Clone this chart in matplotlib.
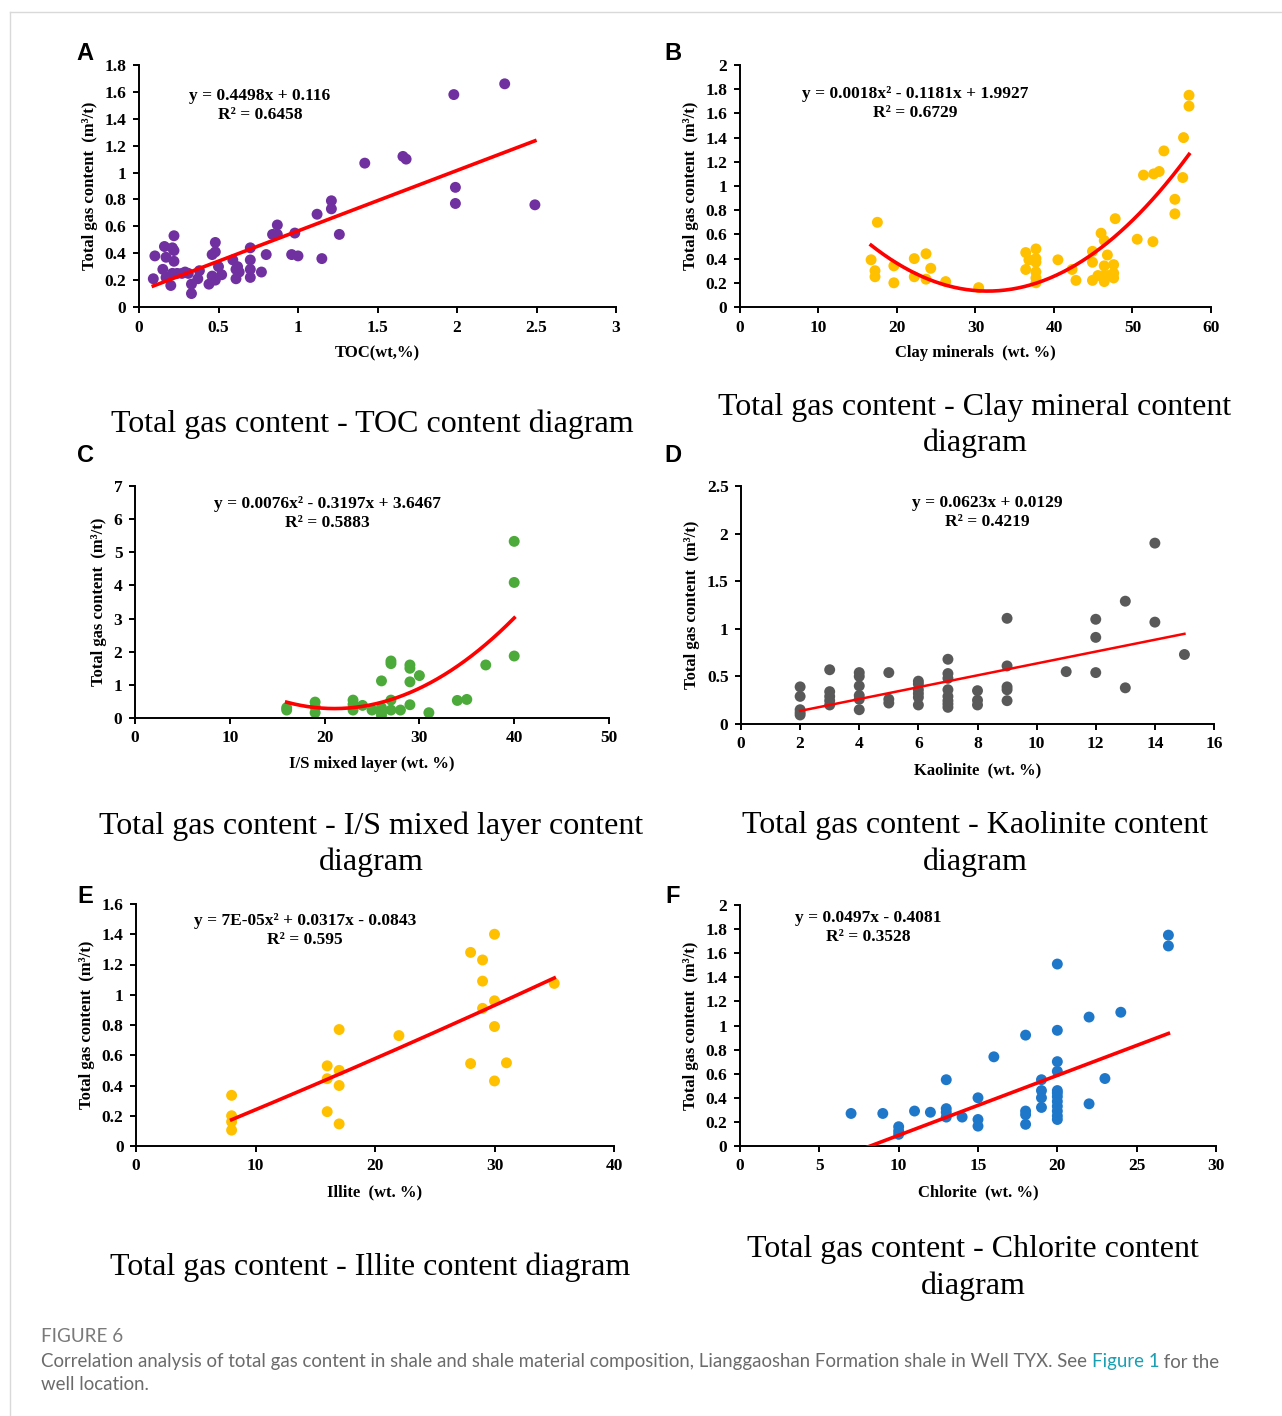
import numpy as np
import matplotlib.pyplot as plt
from matplotlib.lines import Line2D
from matplotlib.ticker import FuncFormatter, MultipleLocator

plt.rcParams['font.family'] = ['Liberation Serif', 'DejaVu Serif']

W, H = 1282, 1416


def fx(x):
    return x / W


def fy(y):
    return 1 - y / H


# ---------------- data ----------------
# A: TOC vs total gas content
toc_x = [0.09, 0.10, 0.15, 0.16, 0.17, 0.17, 0.20, 0.21, 0.22, 0.22, 0.22, 0.21, 0.24, 0.27,
         0.29, 0.31, 0.33, 0.33, 0.37, 0.38, 0.44, 0.46, 0.46, 0.48, 0.48, 0.48, 0.50, 0.52,
         0.59, 0.61, 0.61, 0.62, 0.63, 0.70, 0.70, 0.70, 0.70, 0.77, 0.80, 0.84, 0.87, 0.87,
         0.96, 0.98, 1.00, 1.12, 1.15, 1.21, 1.21, 1.26, 1.42, 1.66, 1.68, 1.98, 1.99, 1.99,
         2.30, 2.49]
toc_y = [0.21, 0.38, 0.28, 0.45, 0.37, 0.22, 0.16, 0.44, 0.53, 0.42, 0.34, 0.25, 0.25, 0.25,
         0.26, 0.25, 0.17, 0.10, 0.21, 0.27, 0.17, 0.23, 0.39, 0.48, 0.41, 0.20, 0.30, 0.24,
         0.35, 0.28, 0.21, 0.30, 0.26, 0.44, 0.35, 0.28, 0.22, 0.26, 0.39, 0.54, 0.61, 0.54,
         0.39, 0.55, 0.38, 0.69, 0.36, 0.79, 0.73, 0.54, 1.07, 1.12, 1.10, 1.58, 0.89, 0.77,
         1.66, 0.76]
toc_fit = [0.4498, 0.116]

# B: clay minerals
clay_x = [16.7, 17.5, 17.2, 17.2, 19.6, 19.6, 22.2, 22.2, 23.7, 23.7, 24.3, 26.2, 30.4,
          36.4, 36.4, 36.8, 37.7, 37.7, 37.7, 37.7, 37.7, 37.7, 40.5, 42.3, 42.8, 44.9, 44.9,
          44.9, 45.6, 46.0, 46.4, 46.4, 46.4, 46.8, 46.3, 46.9, 47.6, 47.6, 47.6, 47.8, 50.6,
          51.4, 52.6, 52.7, 53.4, 54.0, 55.4, 55.4, 56.4, 56.5, 57.2, 57.2]
clay_y = [0.39, 0.70, 0.30, 0.25, 0.34, 0.20, 0.40, 0.25, 0.44, 0.23, 0.32, 0.21, 0.16,
          0.45, 0.31, 0.39, 0.48, 0.40, 0.37, 0.29, 0.24, 0.20, 0.39, 0.31, 0.22, 0.46, 0.37,
          0.22, 0.26, 0.61, 0.55, 0.34, 0.21, 0.43, 0.26, 0.26, 0.35, 0.28, 0.24, 0.73, 0.56,
          1.09, 0.54, 1.10, 1.12, 1.29, 0.89, 0.77, 1.07, 1.40, 1.66, 1.75]

# C: I/S mixed layer
is_x = [16, 16, 19, 19, 19, 23, 23, 23, 24, 25, 26, 26, 26, 26, 27, 27, 27, 27, 28, 29, 29,
        29, 29, 30, 31, 34, 35, 37, 40, 40, 40]
is_y = [0.31, 0.24, 0.48, 0.34, 0.16, 0.54, 0.41, 0.24, 0.38, 0.24, 1.12, 0.31, 0.16, 0.08,
        1.72, 1.64, 0.54, 0.24, 0.24, 1.60, 1.50, 1.09, 0.40, 1.28, 0.16, 0.53, 0.56, 1.60,
        5.33, 4.09, 1.87]
is_fit = [0.0076, -0.3197, 3.6467]

# D: kaolinite
kao_x = [2, 2, 2, 2, 2, 3, 3, 3, 3, 3, 4, 4, 4, 4, 4, 4, 5, 5, 5, 6, 6, 6, 6, 6, 6,
         7, 7, 7, 7, 7, 7, 7, 7, 8, 8, 8, 9, 9, 9, 9, 9, 11, 12, 12, 12, 13, 13, 14, 14, 15]
kao_y = [0.39, 0.29, 0.15, 0.12, 0.095, 0.57, 0.34, 0.29, 0.245, 0.20, 0.54, 0.50, 0.40,
         0.30, 0.26, 0.15, 0.54, 0.26, 0.22, 0.45, 0.42, 0.36, 0.32, 0.28, 0.20, 0.68, 0.53,
         0.48, 0.36, 0.29, 0.245, 0.21, 0.175, 0.35, 0.25, 0.20, 1.11, 0.61, 0.39, 0.36,
         0.245, 0.55, 1.10, 0.91, 0.54, 1.29, 0.38, 1.90, 1.07, 0.73]
kao_fit = [0.0623, 0.0129]

# E: illite
ill_x = [8, 8, 8, 8, 16, 16, 16, 17, 17, 17, 17, 22, 28, 28, 29, 29, 29, 30, 30, 30, 30, 31, 35]
ill_y = [0.335, 0.20, 0.16, 0.105, 0.53, 0.445, 0.227, 0.77, 0.50, 0.40, 0.146, 0.73, 1.28,
         0.545, 1.23, 1.09, 0.91, 1.40, 0.96, 0.79, 0.43, 0.55, 1.075]
ill_fit = [7e-05, 0.0317, -0.0843]

# F: chlorite
chl_x = [7, 9, 10, 10, 10, 11, 12, 13, 13, 13, 13, 14, 15, 15, 15, 16, 18, 18, 18, 18,
         19, 19, 19, 19, 20, 20, 20, 20, 20, 20, 20, 20, 20, 20, 20, 20, 22, 22, 23, 24, 27, 27]
chl_y = [0.27, 0.27, 0.16, 0.125, 0.097, 0.29, 0.28, 0.55, 0.31, 0.28, 0.24, 0.24, 0.40,
         0.22, 0.165, 0.74, 0.92, 0.29, 0.26, 0.18, 0.55, 0.46, 0.40, 0.32, 1.51, 0.96, 0.70,
         0.62, 0.46, 0.44, 0.41, 0.37, 0.33, 0.29, 0.25, 0.22, 1.07, 0.35, 0.56, 1.11, 1.75, 1.66]
chl_fit = [0.0497, -0.4081]

# ---------------- figure ----------------
fig = plt.figure(figsize=(W / 100, H / 100), dpi=100)

# outer frame of the page
fig.add_artist(Line2D([fx(10), fx(1282)], [fy(12), fy(12)], color='#d9d9d9', lw=1))
fig.add_artist(Line2D([fx(10), fx(10)], [fy(12), fy(1416)], color='#d9d9d9', lw=1))

ylab = 'Total gas content  (m\u00b3/t)'

panels = [
    dict(letter='A', box=(139, 65, 616, 307), x=toc_x, y=toc_y, fit=toc_fit,
         xlim=3, xstep=0.5, ylim=1.8, ystep=0.2, color='#7030A0', xlabel='TOC(wt,%)',
         eq=['y = 0.4498x + 0.116', 'R\u00b2 = 0.6458'], eqpos=(260, 96),
         title=['Total gas content - TOC content diagram'], tpos=(372, 424), lpos=(85, 53), lw=2.6),
    dict(letter='B', box=(740, 65, 1211, 307), x=clay_x, y=clay_y, fit=None,
         xlim=60, xstep=10, ylim=2, ystep=0.2, color='#FFC000', xlabel='Clay minerals  (wt. %)',
         eq=['y = 0.0018x\u00b2 - 0.1181x + 1.9927', 'R\u00b2 = 0.6729'], eqpos=(915, 94),
         title=['Total gas content - Clay mineral content', 'diagram'], tpos=(975, 407),
         lpos=(673, 53), lw=2.6),
    dict(letter='C', box=(135, 486, 609, 718), x=is_x, y=is_y, fit=is_fit,
         xlim=50, xstep=10, ylim=7, ystep=1, color='#4BAA3A', xlabel='I/S mixed layer (wt. %)',
         eq=['y = 0.0076x\u00b2 - 0.3197x + 3.6467', 'R\u00b2 = 0.5883'], eqpos=(327, 504),
         title=['Total gas content - I/S mixed layer content', 'diagram'], tpos=(371, 826),
         lpos=(85, 456), lw=2.6),
    dict(letter='D', box=(741, 486, 1214, 724), x=kao_x, y=kao_y, fit=kao_fit,
         xlim=16, xstep=2, ylim=2.5, ystep=0.5, color='#595959', xlabel='Kaolinite  (wt. %)',
         eq=['y = 0.0623x + 0.0129', 'R\u00b2 = 0.4219'], eqpos=(987, 503),
         title=['Total gas content - Kaolinite content', 'diagram'], tpos=(975, 826),
         lpos=(673, 456), lw=1.8),
    dict(letter='E', box=(136, 904, 614, 1146), x=ill_x, y=ill_y, fit=ill_fit,
         xlim=40, xstep=10, ylim=1.6, ystep=0.2, color='#FFC000', xlabel='Illite  (wt. %)',
         eq=['y = 7E-05x\u00b2 + 0.0317x - 0.0843', 'R\u00b2 = 0.595'], eqpos=(305, 921),
         title=['Total gas content - Illite content diagram'], tpos=(370, 1267),
         lpos=(85, 896), lw=2.6),
    dict(letter='F', box=(740, 905, 1216, 1146), x=chl_x, y=chl_y, fit=chl_fit,
         xlim=30, xstep=5, ylim=2, ystep=0.2, color='#1F77C9', xlabel='Chlorite  (wt. %)',
         eq=['y = 0.0497x - 0.4081', 'R\u00b2 = 0.3528'], eqpos=(868, 918),
         title=['Total gas content - Chlorite content', 'diagram'], tpos=(973, 1250),
         lpos=(673, 896), lw=2.6),
]

fmt = FuncFormatter(lambda v, p: '%g' % round(v, 3))

for p in panels:
    l, t, r, b = p['box']
    ax = fig.add_axes([fx(l), fy(b), (r - l) / W, (b - t) / H])
    x = np.array(p['x'])
    y = np.array(p['y'])
    ax.scatter(x, y, s=62, color=p['color'], edgecolors='none', zorder=2)

    # trend line (Excel style, over the data range)
    coef = p['fit'] if p['fit'] is not None else np.polyfit(x, y, 2)
    xs = np.linspace(x.min(), x.max(), 200)
    ax.plot(xs, np.polyval(coef, xs), color='#FF0000', lw=p['lw'], zorder=3)

    ax.set_xlim(0, p['xlim'])
    ax.set_ylim(0, p['ylim'])
    ax.xaxis.set_major_locator(MultipleLocator(p['xstep']))
    ax.yaxis.set_major_locator(MultipleLocator(p['ystep']))
    ax.xaxis.set_major_formatter(fmt)
    ax.yaxis.set_major_formatter(fmt)
    for s in ['top', 'right']:
        ax.spines[s].set_visible(False)
    for s in ['left', 'bottom']:
        ax.spines[s].set_linewidth(1.4)
    ax.tick_params(direction='out', length=4, width=1.4, labelsize=12.5, pad=5)
    for lab in ax.get_xticklabels() + ax.get_yticklabels():
        lab.set_fontweight('bold')
    ax.set_xlabel(p['xlabel'], fontsize=12, fontweight='bold', labelpad=7)
    ax.set_ylabel(ylab, fontsize=12, fontweight='bold', labelpad=5)

    ex, ey = p['eqpos']
    fig.text(fx(ex), fy(ey), p['eq'][0], ha='center', va='center', fontsize=12.5,
             fontweight='bold')
    fig.text(fx(ex), fy(ey + 19), p['eq'][1], ha='center', va='center', fontsize=12.5,
             fontweight='bold')

    tx, ty = p['tpos']
    for i, line in enumerate(p['title']):
        fig.text(fx(tx), fy(ty + 36 * i), line, ha='center', va='center', fontsize=23)

    lx, ly = p['lpos']
    fig.text(fx(lx), fy(ly), p['letter'], ha='center', va='center', fontsize=17,
             fontweight='bold', family=['Liberation Sans', 'DejaVu Sans'])

# caption
cap_font = ['Lato', 'DejaVu Sans']
fig.text(fx(41), fy(1337), 'FIGURE 6', ha='left', va='center', fontsize=13.6,
         color='#7a7a7a', family=cap_font)
t1 = fig.text(fx(41), fy(1362), 'Correlation analysis of total gas content in shale and shale '
              'material composition, Lianggaoshan Formation shale in Well TYX. See ',
              ha='left', va='center', fontsize=13.4, color='#6b6b6b', family=cap_font)
fig.canvas.draw()
rend = fig.canvas.get_renderer()
bb = t1.get_window_extent(rend)
t2 = fig.text(bb.x1 / W, fy(1362), 'Figure 1', ha='left', va='center', fontsize=13.4,
              color='#1a9fb3', family=cap_font)
bb2 = t2.get_window_extent(rend)
fig.text(bb2.x1 / W, fy(1362), ' for the', ha='left', va='center', fontsize=13.4,
         color='#6b6b6b', family=cap_font)
fig.text(fx(41), fy(1385), 'well location.', ha='left', va='center', fontsize=13.4,
         color='#6b6b6b', family=cap_font)

fig.savefig('out.png', dpi=100)
